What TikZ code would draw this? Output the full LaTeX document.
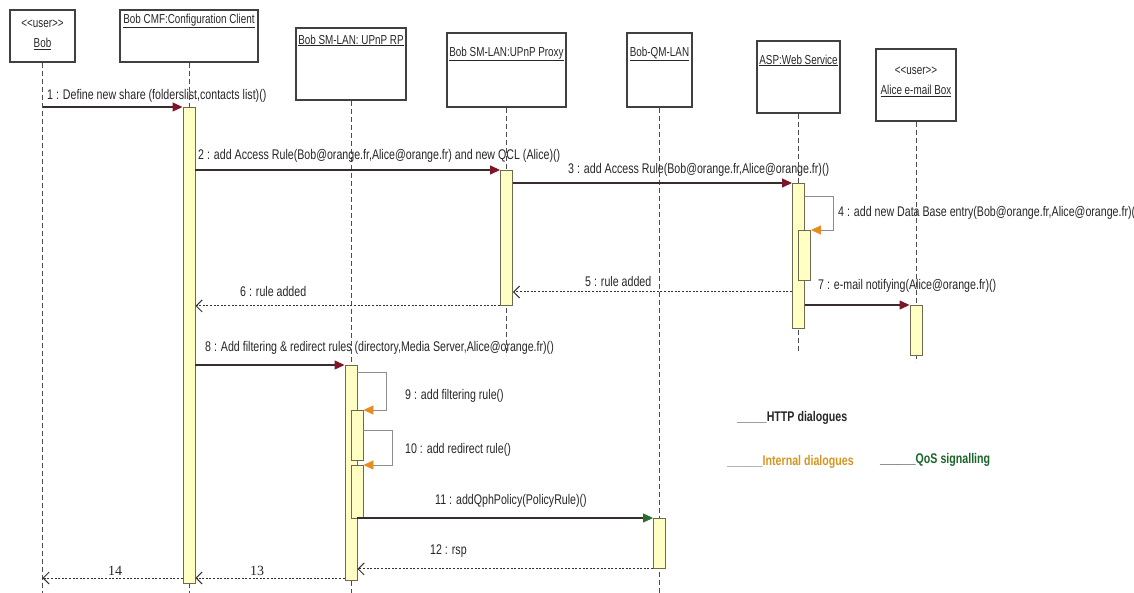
\documentclass[tikz,border=0pt]{standalone}
\usepackage{fontspec}
\setmainfont{Liberation Sans}[FakeStretch=0.76]
\newfontfamily\numfont{Liberation Serif}
\usetikzlibrary{arrows.meta}
\definecolor{httpc}{RGB}{128,20,40}
\definecolor{intc}{RGB}{232,140,30}
\definecolor{qosc}{RGB}{40,110,45}
\definecolor{callc}{RGB}{55,45,45}
\definecolor{barfill}{RGB}{255,255,196}
\definecolor{barline}{RGB}{110,105,80}
\definecolor{legint}{RGB}{212,150,35}
\definecolor{legqos}{RGB}{25,100,40}

\begin{document}
\begin{tikzpicture}[x=1pt,y=-1pt,
  head/.style={draw=black!75,line width=1.1pt,inner sep=0pt},
  htext/.style={font=\fontsize{13}{15}\selectfont,text=black!85,align=center,inner sep=0pt},
  life/.style={draw=black!70,line width=0.9pt,dash pattern=on 5pt off 3pt},
  bar/.style={draw=barline,fill=barfill,line width=0.9pt,minimum width=12pt,inner sep=0pt,anchor=north},
  call/.style={draw=callc,line width=1.1pt,-{Triangle[length=10pt,width=9pt,color=httpc]}},
  qos/.style={draw=callc,line width=1.1pt,-{Triangle[length=10pt,width=9pt,color=qosc]}},
  self/.style={draw=black!45,line width=0.9pt,-{Triangle[length=10pt,width=9pt,color=intc]}},
  ret/.style={draw=black!80,line width=1pt,dash pattern=on 2pt off 1.6pt,-{Straight Barb[length=6pt,width=12pt]}},
  msg/.style={font=\fontsize{14}{16}\selectfont,text=black!85,anchor=west,inner sep=0pt},
  leg/.style={font=\bfseries\fontsize{14}{16}\selectfont,anchor=west,inner sep=0pt}
]
\useasboundingbox (0,0) rectangle (1134,593);
\coordinate (bot) at (0,593);

% heads
\node[head,minimum width=65pt,minimum height=52pt] (bob) at (42.5,36) {};
\node[htext] (bobT) at (42.5,35) {{<}{<}user{>}{>}\\[5pt]\underline{Bob}};
\node[head,minimum width=138pt,minimum height=52pt] (cmf) at (189,36) {};
\node[htext,anchor=north] (cmfT) at ([yshift=-4pt]cmf.north) {\underline{Bob CMF:Configuration Client}};
\node[head,minimum width=110pt,minimum height=72pt] (rp) at (351,64) {};
\node[htext,anchor=north] (rpT) at ([yshift=-7pt]rp.north) {\underline{Bob SM-LAN: UPnP RP}};
\node[head,minimum width=119pt,minimum height=74pt] (prx) at (506.5,70) {};
\node[htext,anchor=north] (prxT) at ([yshift=-14pt]prx.north) {\underline{Bob SM-LAN:UPnP Proxy}};
\node[head,minimum width=65pt,minimum height=74pt] (qm) at (659.5,70) {};
\node[htext,anchor=north] (qmT) at ([yshift=-14pt]qm.north) {\underline{Bob-QM-LAN}};
\node[head,minimum width=83pt,minimum height=72pt] (asp) at (798.5,77) {};
\node[htext,anchor=north] (aspT) at ([yshift=-14pt]asp.north) {\underline{ASP:Web Service}};
\node[head,minimum width=80pt,minimum height=72pt] (ali) at (916,85) {};
\node[htext] (aliT) at (916,82) {{<}{<}user{>}{>}\\[5pt]\underline{Alice e-mail Box}};

% lifelines
\draw[life] (bob.south) -- (bob.south |- bot);
\draw[life] (cmf.south) -- (cmf.south |- bot);
\draw[life] (rp.south) -- (rp.south |- bot);
\draw[life] (prx.south) -- ++(0,248);
\draw[life] (qm.south) -- (qm.south |- bot);
\draw[life] (asp.south) -- ++(0,237);
\draw[life] (ali.south) -- ++(0,240);

% activations
\node[bar,minimum height=476pt] (cmfA) at (189,107) {};
\node[bar,minimum height=135pt] (prxA) at (506.5,170) {};
\node[bar,minimum height=145pt] (aspA) at (798.5,183) {};
\node[bar,minimum height=50pt] (aspB) at (804.5,230) {};
\node[bar,minimum height=50pt] (aliA) at (916,305) {};
\node[bar,minimum height=215pt] (rpA) at (351,365) {};
\node[bar,minimum height=50pt] (rpB) at (357,410) {};
\node[bar,minimum height=53pt] (rpC) at (357,465) {};
\node[bar,minimum height=50pt] (qmA) at (659.5,518) {};

% messages
\coordinate (r5) at (0,292);
\coordinate (r13) at (0,578);
\draw[call] (bob.south |- cmfA.north) -- (cmfA.north west);
\draw[call] (cmfA.east |- prxA.north) -- (prxA.north west);
\draw[call] (prxA.east |- aspA.north) -- (aspA.north west);
\draw[self] ([yshift=-13pt]aspA.north east) -- ++(28,0) |- (aspB.north east);
\draw[ret] (aspA.west |- r5) -- (prxA.east |- r5);
\draw[ret] (prxA.south west) -- (cmfA.east |- prxA.south);
\draw[call] (aspA.east |- aliA.north) -- (aliA.north west);
\draw[call] (cmfA.east |- rpA.north) -- (rpA.north west);
\draw[self] ([yshift=-7pt]rpA.north east) -- ++(29,0) |- (rpB.north east);
\draw[self] ([yshift=-20pt]rpB.north east) -- ++(29,0) |- (rpC.north east);
\draw[qos] (rpA.east |- qmA.north) -- (qmA.north west);
\draw[ret] (qmA.south west) -- (rpA.east |- qmA.south);
\draw[ret] (rpA.west |- r13) -- (cmfA.east |- r13);
\draw[ret] (cmfA.west |- r13) -- (bob.south |- r13);

\node[msg] (t1) at (47,96) {1 : Define new share (folderslist,contacts list)()};
\node[msg] (t2) at (198,156) {2 : add Access Rule(Bob@orange.fr,Alice@orange.fr) and new QCL (Alice)()};
\node[msg] (t3) at (568,170) {3 : add Access Rule(Bob@orange.fr,Alice@orange.fr)()};
\node[msg] (t4) at (838,213) {4 : add new Data Base entry(Bob@orange.fr,Alice@orange.fr)()};
\node[msg] (t5) at (585,281) {5 : rule added};
\node[msg] (t6) at (240,291) {6 : rule added};
\node[msg] (t7) at (818,286) {7 : e-mail notifying(Alice@orange.fr)()};
\node[msg] (t8) at (205,348) {8 : Add filtering \& redirect rules (directory,Media Server,Alice@orange.fr)()};
\node[msg] (t9) at (405,396) {9 : add filtering rule()};
\node[msg] (t10) at (405,450) {10 : add redirect rule()};
\node[msg] (t11) at (435,501) {11 : addQphPolicy(PolicyRule)()};
\node[msg] (t12) at (430,551) {12 : rsp};
\node[msg,font=\numfont\fontsize{14}{16}\selectfont] (t13) at (250,571) {13};
\node[msg,font=\numfont\fontsize{14}{16}\selectfont] (t14) at (108,571) {14};

% legend
\node[leg] (lg1) at (737,418) {\textcolor{black!70}{\_\_\_\_\_}\textcolor{black!85}{HTTP dialogues}};
\node[leg] (lg2) at (727,462) {\textcolor{black!55}{\_\_\_\_\_\_}\textcolor{legint}{Internal dialogues}};
\node[leg] (lg3) at (880,460) {\textcolor{black!80}{\_\_\_\_\_\_}\textcolor{legqos}{QoS signalling}};
\end{tikzpicture}
\end{document}
